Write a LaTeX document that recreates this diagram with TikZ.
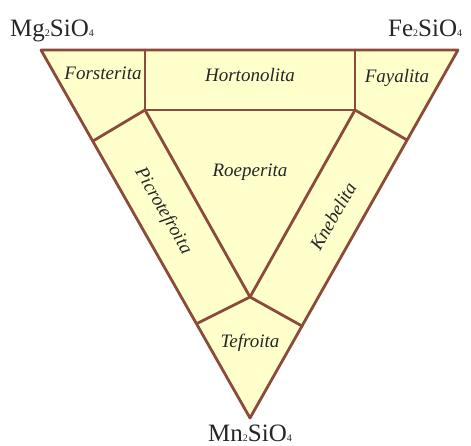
\documentclass[tikz,border=0pt]{standalone}
\usepackage{fontspec}
\setmainfont{Liberation Serif}
\usetikzlibrary{positioning}
\definecolor{olfill}{RGB}{255,255,204}
\definecolor{olline}{RGB}{139,74,58}
\newcommand{\lowsub}[1]{\raisebox{-0.5pt}{\fontsize{10}{10}\selectfont #1}}

\begin{document}
\begin{tikzpicture}[
    x=1pt, y=-1pt,
    border/.style = {draw=olline, line width=2.8pt, line join=round, line cap=round},
    region/.style = {font=\itshape\fontsize{19}{19}\selectfont, inner sep=0pt, text=black!85},
    member/.style = {font=\fontsize{25}{25}\selectfont, inner sep=0pt, anchor=base west, text=black!85}
]
    \useasboundingbox (0,0) rectangle (471,445);

    % corners of the ternary diagram
    \coordinate (Mg) at (41,50);
    \coordinate (Fe) at (458,50);
    \coordinate (Mn) at (250,418);

    % inner points
    \coordinate (HtL) at (145,50);
    \coordinate (HtR) at (355,50);
    \coordinate (HbL) at (145,110);
    \coordinate (HbR) at (355,110);
    \coordinate (PicT) at (93,141);
    \coordinate (KneT) at (407,140);
    \coordinate (C) at (250,297);
    \coordinate (PicB) at (198,323);
    \coordinate (KneB) at (302,326);

    \filldraw[border, fill=olfill] (Mg) -- (Fe) -- (Mn) -- cycle;
    \draw[border] (HtL) -- (HbL) -- (HbR) -- (HtR);
    \draw[border] (HbL) -- (PicT);
    \draw[border] (HbR) -- (KneT);
    \draw[border] (HbL) -- (C) -- (HbR);
    \draw[border] (PicB) -- (C) -- (KneB);

    \node[member] (mg) at (10,36) {Mg\lowsub{2}SiO\lowsub{4}};
    \node[member] (fe) at (388,36) {Fe\lowsub{2}SiO\lowsub{4}};
    \node[member] (mn) at (208,441) {Mn\lowsub{2}SiO\lowsub{4}};

    \node[region] (fo) at (103,73) {Forsterita};
    \node[region] (ho) at (250,75) {Hortonolita};
    \node[region] (fa) at (397,78) {Fayalita};
    \node[region] (ro) at (250,172) {Roeperita};
    \node[region, rotate=-60] (pi) at (163,211) {Picrotefroita};
    \node[region, rotate=60] (kn) at (333,216) {Knebelita};
    \node[region] (te) at (250,343) {Tefroita};
\end{tikzpicture}
\end{document}
